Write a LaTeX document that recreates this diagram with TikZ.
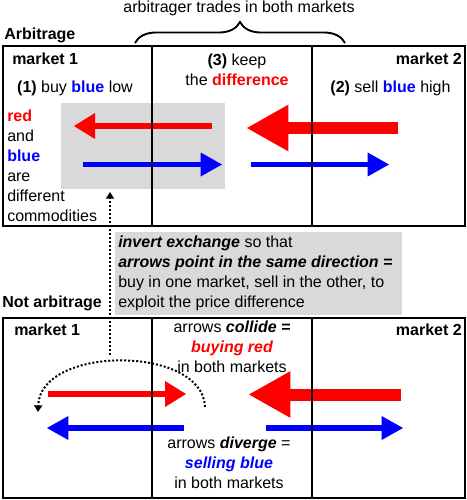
\documentclass[tikz,border=0pt]{standalone}
\usepackage{fontspec}
\setmainfont{Liberation Sans}
\usetikzlibrary{arrows.meta,decorations.pathreplacing}

\tikzset{
	txt/.style = {inner sep=0pt, font=\fontsize{12}{15}\selectfont},
	head/.style = {inner sep=0pt, font=\fontsize{12}{15}\selectfont\bfseries},
	panel/.style = {line width=1.5pt},
	redarrow/.style = {red, line width=4.5pt, -{Triangle[length=15.75pt 0 0, width=19.5pt 0 0, line width=0pt]}},
	bigarrow/.style = {red, line width=9pt, -{Triangle[length=31pt 0 0, width=35pt 0 0, line width=0pt]}},
	bluearrow/.style = {blue, line width=4pt, -{Triangle[length=16pt 0 0, width=18pt 0 0, line width=0pt]}},
	hint/.style = {line width=1.5pt, dash pattern=on 1.5pt off 1.5pt, -{Triangle[length=5pt 0 0, width=6pt 0 0]}}
}

\begin{document}
\begin{tikzpicture}[x=0.75pt, y=-0.75pt]
	\useasboundingbox (0,0) rectangle (467,500);
	% Arbitrage
	\node[txt, anchor=base] (both) at (239,12) {arbitrager trades in both markets};
	\draw[line width=1.4pt, decorate, decoration={brace, amplitude=15.75pt}] (135,43) -- (345,43);
	\node[head, anchor=base west] (arb) at (4,39) {Arbitrage};
	\fill[gray!30] (61,103) rectangle (225,189);
	\draw[redarrow] (212,126) -- (74,126);
	\draw[bigarrow] (398,128) -- (247,128);
	\draw[bluearrow] (83,164.5) -- (222,164.5);
	\draw[bluearrow] (251,164.5) -- (389,164.5);
	\draw[panel] (3,46) rectangle (465,226) (152,46) -- (152,226) (312,46) -- (312,226);
	\node[head, anchor=base west] (m1) at (12,64) {market 1};
	\node[head, anchor=base east] (m2) at (462,64) {market 2};
	% multi-line nodes: base = last line
	\node[txt, anchor=base, align=center] (keep) at (237,85) {\textbf{(3)} keep\\the \textbf{\color{red}difference}};
	\node[txt, anchor=base] (buy) at (75,92) {\textbf{(1)} buy \textbf{\color{blue}blue} low};
	\node[txt, anchor=base] (sell) at (390.5,92) {\textbf{(2)} sell \textbf{\color{blue}blue} high};
	\node[txt, anchor=base west, align=left] (comm) at (7,221.5) {\textbf{\color{red}red}\\and\\\textbf{\color{blue}blue}\\are\\different\\commodities};
	% invert exchange
	\fill[gray!30] (115,232) rectangle (402,315);
	\node[txt, anchor=base west, align=left] (invert) at (118,307) {\textbf{\textit{invert exchange}} so that\\\textbf{\textit{arrows point in the same direction =}}\\buy in one market, sell in the other, to\\exploit the price difference};
	\coordinate (from) at (110,355);
	\coordinate (to) at (110,192);
	\draw[hint] (from) -- (to);
	% Not arbitrage
	\node[head, anchor=base west] (notarb) at (2,307) {Not arbitrage};
	\draw[redarrow] (48,394) -- (186,394);
	\draw[bigarrow] (401,394.5) -- (249,394.5);
	\draw[bluearrow] (184,428) -- (47,428);
	\draw[bluearrow] (266,428) -- (403,428);
	\draw[hint] (205,407) .. controls (203,345) and (40,345) .. (38,412);
	\draw[panel] (3,318) rectangle (465,498) (152,318) -- (152,498) (312,318) -- (312,498);
	\node[head, anchor=base west] (m1b) at (14,335) {market 1};
	\node[head, anchor=base east] (m2b) at (462,335) {market 2};
	\node[txt, anchor=base, align=center] (collide) at (232,372.5) {arrows \textbf{\textit{collide =}}\\\textbf{\textit{\color{red}buying red}}\\in both markets};
	\node[txt, anchor=base, align=center] (diverge) at (229,488.5) {arrows \textbf{\textit{diverge}} =\\\textbf{\textit{\color{blue}selling blue}}\\in both markets};
\end{tikzpicture}
\end{document}
